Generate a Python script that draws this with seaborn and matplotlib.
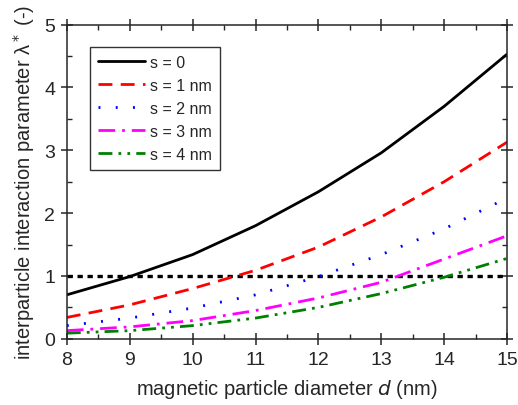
import matplotlib
matplotlib.use("Agg")
import matplotlib.pyplot as plt
import seaborn as sns
import pandas as pd
from matplotlib.ticker import MultipleLocator

# particle diameter d (nm)
diameter = [8, 9, 10, 11, 12, 13, 14, 15]

# lambda* values, one list per shell thickness s
lam_s0 = [0.70, 0.99, 1.34, 1.80, 2.34, 2.96, 3.70, 4.53]
lam_s1 = [0.34, 0.54, 0.80, 1.09, 1.46, 1.94, 2.50, 3.13]
lam_s2 = [0.21, 0.33, 0.49, 0.70, 0.99, 1.34, 1.75, 2.24]
lam_s3 = [0.13, 0.19, 0.29, 0.45, 0.65, 0.90, 1.27, 1.64]
lam_s4 = [0.09, 0.13, 0.21, 0.33, 0.50, 0.72, 0.98, 1.28]

labels = ["s = 0", "s = 1 nm", "s = 2 nm", "s = 3 nm", "s = 4 nm"]
threshold = 1.0

sns.set_style("ticks")
plt.rcParams['font.family'] = ['Liberation Sans', 'DejaVu Sans']

rows = []
for lab, vals in zip(labels, [lam_s0, lam_s1, lam_s2, lam_s3, lam_s4]):
    for d, v in zip(diameter, vals):
        rows.append({"d": d, "lam": v, "series": lab})
df = pd.DataFrame(rows)

colors = ["black", "#ff0000", "#0000ff", "#ff00ff", "#008000"]
dashes = ["", (5, 3), (0.7, 5.5), (6, 2.5, 1, 2.5), (5, 2.2, 1, 2.2, 1, 2.2)]

fig, ax = plt.subplots(figsize=(5.18, 4.06), dpi=100)
fig.subplots_adjust(left=0.129, right=0.979, top=0.937, bottom=0.163)

ax.plot([8, 15], [threshold, threshold], color="black", lw=2.4,
        dashes=(1.6, 1.4), zorder=1)

sns.lineplot(data=df, x="d", y="lam", hue="series", style="series",
             palette=colors, dashes=dashes, linewidth=2.0, ax=ax)

ax.set_xlim(8, 15)
ax.set_ylim(0, 5)
ax.xaxis.set_major_locator(MultipleLocator(1))
ax.xaxis.set_minor_locator(MultipleLocator(0.5))
ax.yaxis.set_major_locator(MultipleLocator(1))
ax.yaxis.set_minor_locator(MultipleLocator(0.5))
ax.tick_params(which="major", direction="inout", length=9, width=1.1,
               top=True, right=True, labelsize=14, pad=4)
ax.tick_params(which="minor", direction="in", length=3.5, width=1.0,
               top=True, right=True)
for sp in ax.spines.values():
    sp.set_linewidth(1.1)
    sp.set_visible(True)

ax.set_xlabel("magnetic particle diameter $\\it{d}$ (nm)", fontsize=14.5, labelpad=7)
ax.set_ylabel("interparticle interaction parameter λ$^*$ (-)", fontsize=14.5, labelpad=5)

leg = ax.legend(loc="upper left", bbox_to_anchor=(0.035, 0.955), fontsize=11.5,
                frameon=True, fancybox=False, edgecolor="black",
                handlelength=2.9, handletextpad=0.35, borderpad=0.5,
                labelspacing=0.5)
leg.get_frame().set_linewidth(1.0)

fig.savefig("out.png", dpi=100)
